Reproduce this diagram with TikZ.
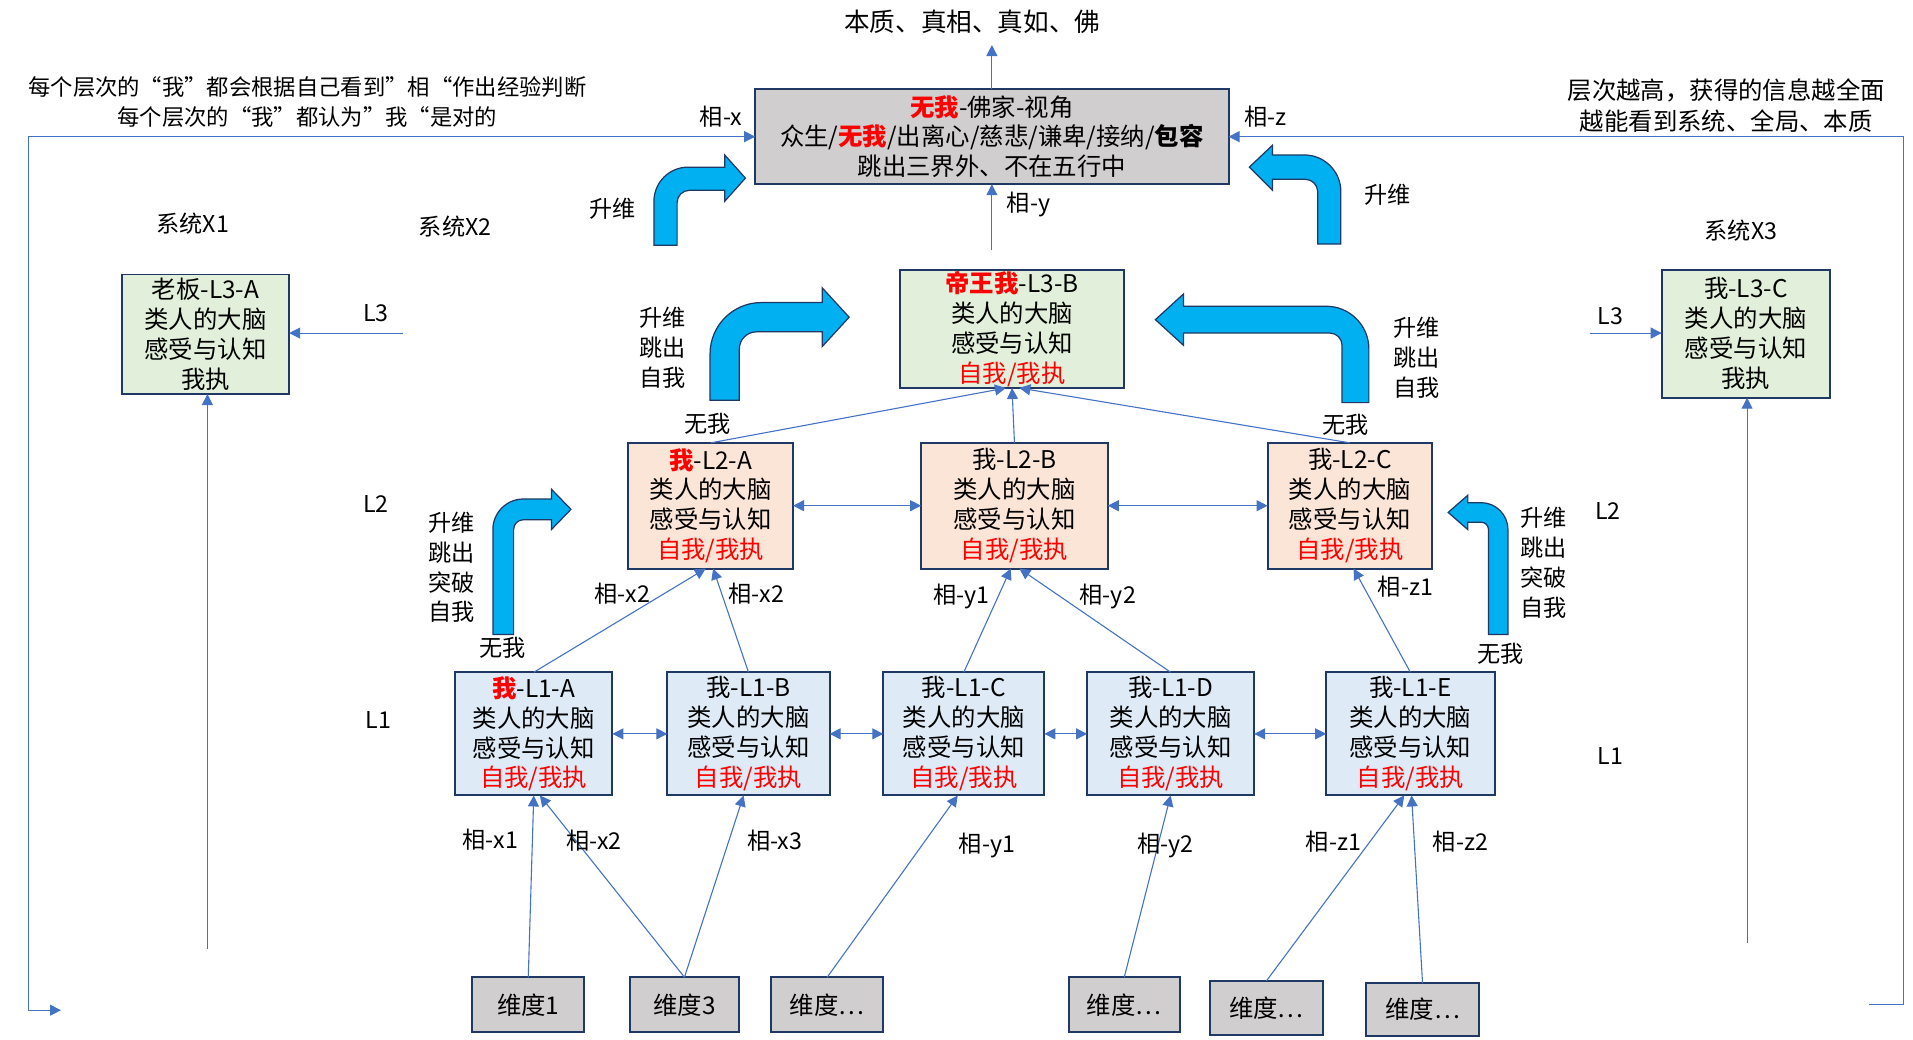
\documentclass[tikz,border=0pt]{standalone}
\usepackage{fontspec}
\setmainfont{Noto Sans CJK SC}
\usepackage{xcolor}
\usepackage{tikz}
\usetikzlibrary{positioning,arrows.meta,calc}
\definecolor{lLine}{RGB}{68,114,196}
\definecolor{bLine}{RGB}{32,56,100}
\definecolor{gFill}{RGB}{208,206,206}
\definecolor{l3Fill}{RGB}{226,239,218}
\definecolor{l2Fill}{RGB}{251,229,214}
\definecolor{l1Fill}{RGB}{222,235,247}
\definecolor{jFill}{RGB}{0,176,240}
\tikzset{
  lbox/.style={rectangle, draw=bLine, line width=1.6pt, align=center,
               inner sep=0pt, outer sep=0pt, font=\fontsize{20}{24.5}\selectfont},
  topbox/.style={lbox, fill=gFill, minimum width=388pt, minimum height=78pt},
  lv3/.style={lbox, fill=l3Fill},
  lv2/.style={lbox, fill=l2Fill, minimum height=103pt},
  lv1/.style={lbox, fill=l1Fill, minimum height=101pt},
  dimbox/.style={lbox, fill=gFill, minimum width=92pt, minimum height=45pt},
  flow/.style={-{Triangle[length=9pt,width=9pt]}, draw=lLine, line width=0.9pt},
  biflow/.style={{Triangle[length=9pt,width=9pt]}-{Triangle[length=9pt,width=9pt]},
                 draw=lLine, line width=0.9pt},
  lbl/.style={font=\fontsize{19}{24.5}\selectfont, inner sep=0pt, align=center},
  jump/.style={fill=jFill, draw=bLine, line width=1pt},
}

\begin{document}
\begin{tikzpicture}[x=1pt, y=-1pt]
  \useasboundingbox (0,0) rectangle (1568,852);

  % ---- top: view without self ----
  \node[topbox] (top) at (813,112)
       {\textcolor{red}{\bfseries 无我}-佛家-视角\\
        众生/\textcolor{red}{\bfseries 无我}/出离心/慈悲/谦卑/接纳/\textbf{包容}\\
        跳出三界外、不在五行中};
  \node[lbl, font=\fontsize{21}{24}\selectfont] (ess) at (797,18) {本质、真相、真如、佛};

  % ---- notes in the corners ----
  \node[lbl, font=\fontsize{18.3}{25}\selectfont] (noteL) at (252,83.5)
       {每个层次的“我”都会根据自己看到”相“作出经验判断\\每个层次的“我”都认为”我“是对的};
  \node[lbl, font=\fontsize{20}{25}\selectfont] (noteR) at (1415,86.5)
       {层次越高，获得的信息越全面\\越能看到系统、全局、本质};

  % ---- level 3 ----
  \node[lv3, minimum width=137pt, minimum height=98pt] (L3A) at (168.5,274)
       {老板-L3-A\\类人的大脑\\感受与认知\\我执};
  \node[lv3, minimum width=183pt, minimum height=97pt] (L3B) at (829.5,269.5)
       {\textcolor{red}{\bfseries 帝王我}-L3-B\\类人的大脑\\感受与认知\\\textcolor{red}{自我/我执}};
  \node[lv3, minimum width=138pt, minimum height=105pt] (L3C) at (1431,273.5)
       {我-L3-C\\类人的大脑\\感受与认知\\我执};

  % ---- level 2 ----
  \node[lv2, minimum width=135pt] (L2A) at (582.5,414.5)
       {\textcolor{red}{\bfseries 我}-L2-A\\类人的大脑\\感受与认知\\\textcolor{red}{自我/我执}};
  \node[lv2, minimum width=153pt, right=105pt of L2A] (L2B)
       {我-L2-B\\类人的大脑\\感受与认知\\\textcolor{red}{自我/我执}};
  \node[lv2, minimum width=135pt, right=131pt of L2B] (L2C)
       {我-L2-C\\类人的大脑\\感受与认知\\\textcolor{red}{自我/我执}};

  % ---- level 1 ----
  \node[lv1, minimum width=129pt] (L1A) at (437.5,601.5)
       {\textcolor{red}{\bfseries 我}-L1-A\\类人的大脑\\感受与认知\\\textcolor{red}{自我/我执}};
  \node[lv1, minimum width=133pt, right=45pt of L1A] (L1B)
       {我-L1-B\\类人的大脑\\感受与认知\\\textcolor{red}{自我/我执}};
  \node[lv1, minimum width=132pt, right=44pt of L1B] (L1C)
       {我-L1-C\\类人的大脑\\感受与认知\\\textcolor{red}{自我/我执}};
  \node[lv1, minimum width=137pt, right=35pt of L1C] (L1D)
       {我-L1-D\\类人的大脑\\感受与认知\\\textcolor{red}{自我/我执}};
  \node[lv1, minimum width=138pt, right=59pt of L1D] (L1E)
       {我-L1-E\\类人的大脑\\感受与认知\\\textcolor{red}{自我/我执}};

  % ---- dimensions ----
  \node[dimbox] (d1) at (433,823.5) {维度1};
  \node[dimbox, minimum width=90pt, right=37pt of d1] (d3) {维度3};
  \node[dimbox, right=26pt of d3] (dy1) {维度…};
  \node[dimbox, minimum width=91pt] (dy2) at (921.5,823.5) {维度…};
  \node[dimbox, minimum height=44pt] (dz1) at (1038,826) {维度…};
  \node[dimbox, minimum height=43pt] (dz2) at (1166,827.5) {维度…};

  % ---- level / system labels ----
  \node[lbl] (sx1) at (158,183) {系统X1};
  \node[lbl] (sx2) at (373,186) {系统X2};
  \node[lbl] (sx3) at (1427,189) {系统X3};
  \node[lbl] (lv3l) at (308,257) {L3};
  \node[lbl] (lv2l) at (308,413) {L2};
  \node[lbl] (lv1l) at (310,590) {L1};
  \node[lbl] (lv3r) at (1320,259) {L3};
  \node[lbl] (lv2r) at (1318,419) {L2};
  \node[lbl] (lv1r) at (1320,620) {L1};

  % ---- jump arrows (raise dimension) ----
  \draw[jump] (536,201) -- (536,165) .. controls (536,149.5) and (548.5,137) .. (564,137)
       -- (594,137) -- (594,127) -- (611,146) -- (594,165) -- (594,156) -- (565,156)
       .. controls (559.5,156) and (555,160.5) .. (555,166) -- (555,201) -- cycle;
  \draw[jump] (1099,200) -- (1099,157) .. controls (1099,140.4) and (1085.6,127) .. (1069,127)
       -- (1043,127) -- (1043,119) -- (1024,137) -- (1043,156) -- (1043,147) -- (1070,147)
       .. controls (1075.5,147) and (1080,151.5) .. (1080,157) -- (1080,200) -- cycle;
  \draw[jump] (582,328) -- (582,290) .. controls (582,266.8) and (600.8,248) .. (624,248)
       -- (674,248) -- (674,236) -- (696,260) -- (674,284) -- (674,272) -- (620,272)
       .. controls (612.3,272) and (606,278.3) .. (606,286) -- (606,328) -- cycle;
  \draw[jump] (1122,330) -- (1122,286) .. controls (1122,266.7) and (1106.3,251) .. (1087,251)
       -- (970,251) -- (970,241) -- (947,262) -- (970,283) -- (970,273) -- (1090,273)
       .. controls (1095.5,273) and (1100,277.5) .. (1100,283) -- (1100,330) -- cycle;
  \draw[jump] (404,520) -- (404,434) .. controls (404,420.2) and (415.2,409) .. (429,409)
       -- (452,409) -- (452,401) -- (468,417.5) -- (452,434) -- (452,426) -- (429,426)
       .. controls (424.6,426) and (421,429.6) .. (421,434) -- (421,520) -- cycle;
  \draw[jump] (1236,520) -- (1236,434) .. controls (1236,421.9) and (1226.1,412) .. (1214,412)
       -- (1203,412) -- (1203,406) -- (1187,420) -- (1203,434) -- (1203,428) -- (1214,428)
       .. controls (1217.3,428) and (1220,430.7) .. (1220,434) -- (1220,520) -- cycle;

  \node[lbl] (up1) at (502,171) {升维};
  \node[lbl] (up2) at (1137,160) {升维};
  \node[lbl] (up3) at (543,285) {升维\\跳出\\自我};
  \node[lbl] (up4) at (1161,293) {升维\\跳出\\自我};
  \node[lbl] (up5) at (370,465) {升维\\跳出\\突破\\自我};
  \node[lbl] (up6) at (1265,461) {升维\\跳出\\突破\\自我};
  \node[lbl] (wA) at (580,347) {无我};
  \node[lbl] (wC) at (1103,348) {无我};
  \node[lbl] (wL) at (412,531) {无我};
  \node[lbl] (wR) at (1230,536) {无我};

  % ===== same-level links =====
  \foreach \a/\b in {L1A/L1B,L1B/L1C,L1C/L1D,L1D/L1E,L2A/L2B,L2B/L2C}
    \draw[biflow] (\a) -- (\b);

  % ===== dimensions -> level 1 =====
  \draw[flow] (d1.north) -- (L1A.south);
  \draw[flow] (d3.north) -- ([xshift=5pt]L1A.south);
  \draw[flow] (d3.north) -- ([xshift=-4pt]L1B.south);
  \draw[flow] (dy1.north) -- ([xshift=-5pt]L1C.south);
  \draw[flow] (dy2.north) -- (L1D.south);
  \draw[flow] (dz1.north) -- ([xshift=-5pt]L1E.south);
  \draw[flow] (dz2.north) -- ([xshift=1pt]L1E.south);
  \node[lbl] (hx1) at (402,688) {相-x1};
  \node[lbl] (hx2c) at (487,689) {相-x2};
  \node[lbl] (hx3) at (635,689) {相-x3};
  \node[lbl] (hy1b) at (809,693) {相-y1};
  \node[lbl] (hy2b) at (955,693) {相-y2};
  \node[lbl] (hz1b) at (1093,690) {相-z1};
  \node[lbl] (hz2) at (1197,690) {相-z2};

  % ===== level 1 -> level 2 =====
  \draw[flow] (L1A.north) -- ([xshift=-4pt]L2A.south);
  \draw[flow] (L1B.north) -- ([xshift=2pt]L2A.south);
  \draw[flow] (L1C.north) -- ([xshift=-3pt]L2B.south);
  \draw[flow] (L1D.north) -- ([xshift=4pt]L2B.south);
  \draw[flow] (L1E.north) -- ([xshift=3pt]L2C.south);
  \node[lbl] (hx2a) at (510,487) {相-x2};
  \node[lbl] (hx2b) at (620,487) {相-x2};
  \node[lbl] (hy1a) at (788,489) {相-y1};
  \node[lbl] (hy2a) at (908,489) {相-y2};
  \node[lbl] (hz1a) at (1152,481) {相-z1};

  % ===== level 2 -> level 3, level 3 -> top =====
  \draw[flow] (L2A.north) -- ([xshift=-5pt]L3B.south);
  \draw[flow] (L2B.north) -- (L3B.south);
  \draw[flow] (L2C.north) -- ([xshift=6pt]L3B.south);
  \draw[flow, shorten <=16pt] (top.south |- L3B.north) -- (top.south);
  \draw[flow, shorten >=9pt] (top.north) -- (top.north |- ess.south);
  \node[lbl] (hx) at (591,96) {相-x};
  \node[lbl] (hz) at (1037,96) {相-z};
  \node[lbl] (hy) at (843,168) {相-y};

  % ===== side systems =====
  \coordinate (l3l) at (330,273);
  \coordinate (l3r) at (1303,273);
  \coordinate (vA) at (170,778);
  \coordinate (vC) at (1432,773);
  \draw[flow] (l3l) -- (l3l -| L3A.east);
  \draw[flow] (l3r) -- (l3r -| L3C.west);
  \draw[flow] (vA) -- (vA |- L3A.south);
  \draw[flow] (vC) -- (vC |- L3C.south);

  % ===== outer loops to the top =====
  \coordinate (lb) at (50,828);
  \coordinate (rb) at (1532,823);
  \draw[biflow] (lb) -- ++(-27,0) |- (top.west);
  \draw[flow] (rb) -- ++(28,0) |- (top.east);

\end{tikzpicture}
\end{document}
